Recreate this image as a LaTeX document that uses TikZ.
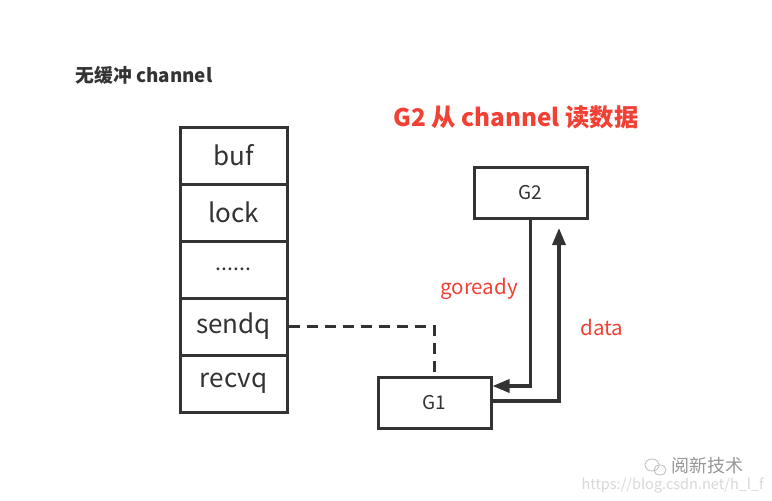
\documentclass[tikz,border=0pt]{standalone}
\usepackage{fontspec}
\setmainfont{Noto Sans CJK SC}
\usetikzlibrary{arrows.meta}
\definecolor{ink}{RGB}{51,51,51}
\definecolor{redtxt}{RGB}{242,64,52}
\definecolor{wm}{RGB}{190,190,190}
\begin{document}
\begin{tikzpicture}[x=1pt,y=-1pt,
  cell/.style={draw=ink,line width=3pt,minimum width=107pt,minimum height=57pt,inner sep=0pt,font=\fontsize{26}{26}\selectfont,text=ink},
  gbox/.style={draw=ink,line width=3pt,minimum width=113pt,minimum height=51pt,inner sep=0pt,font=\fontsize{19}{19}\selectfont,text=ink},
  conn/.style={draw=ink,line width=3.4pt},
  tip/.style={-{Triangle[length=17pt,width=13pt]}},
  lbl/.style={text=redtxt,font=\fontsize{20.5}{20.5}\selectfont}]
\useasboundingbox (0,0) rectangle (772,501);
\fill[white] (0,0) rectangle (772,501);
% titles
\node[text=ink,font=\bfseries\fontsize{18.8}{18.8}\selectfont] (t1) at (144,75) {无缓冲 channel};
\node[text=redtxt,font=\bfseries\fontsize{24.3}{24.3}\selectfont] (t2) at (516,117) {G2 从 channel 读数据};
% stack
\node[cell] (buf) at (233.5,155.5) {buf};
\node[cell] (lock) at (233.5,212.5) {lock};
\node[cell,font=\fontsize{21}{21}\selectfont] (dots) at (233.5,269.5) {......};
\node[cell] (sendq) at (233.5,326.5) {sendq};
\node[cell] (recvq) at (233.5,383.5) {recvq};
% goroutines
\node[gbox] (G2) at (530.5,192.5) {G2};
\node[gbox] (G1) at (434.5,403) {G1};
% dashed
\coordinate (d1) at (434,326.5);
\draw[ink,line width=3pt,dash pattern=on 11pt off 7pt] (sendq.east) -- (d1) -- (G1.north -| d1);
% goready
\coordinate (g1) at (530.5,386);
\draw[conn,tip] (G2.south -| g1) -- (g1) -- (g1 -| G1.east);
\coordinate (g2) at (559,401);
\coordinate (g3) at (559,228);
\draw[conn,tip] (g2 -| G1.east) -- (g2) -- (g3);
% labels
\node[lbl] (lgo) at (479,289) {goready};
\node[lbl] (ldata) at (602,327) {data};
% watermark
\draw[wm,line width=0.8pt] (652,465) ellipse (7pt and 6pt);
\draw[wm,line width=0.8pt] (660,470) ellipse (6pt and 5pt);
\node[text=wm!80!black,font=\fontsize{18}{18}\selectfont,anchor=west] (wm1) at (668,466) {阅新技术};
\node[text=wm!60!white,font=\fontsize{14.5}{14.5}\selectfont,anchor=west] (wm2) at (578,485) {https://blog.csdn.net/h\_l\_f};
\end{tikzpicture}
\end{document}
